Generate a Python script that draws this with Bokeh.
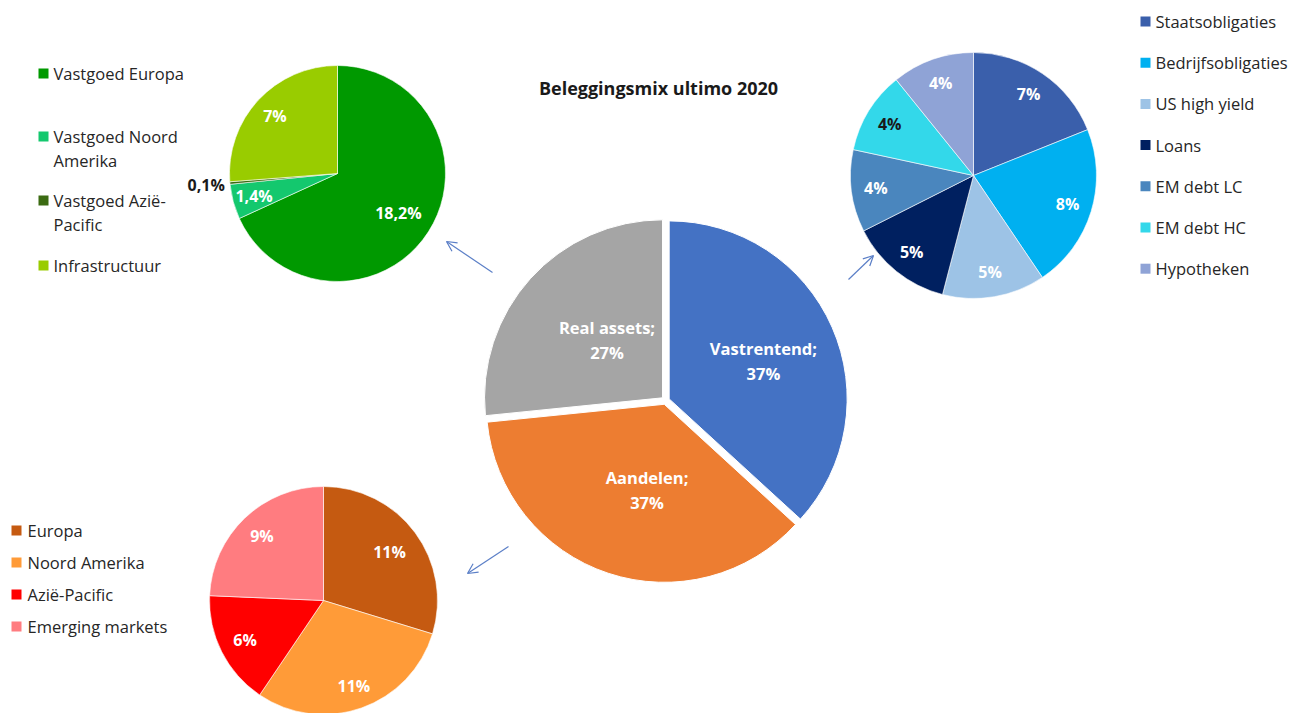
import math
from bokeh.plotting import figure
from bokeh.models import Range1d, ColumnDataSource, Arrow, OpenHead
from bokeh.core.properties import value
from bokeh.embed import file_html
from bokeh.resources import INLINE

# ---------------- data ----------------
title = "Beleggingsmix ultimo 2020"

main_cats = ["Vastrentend", "Aandelen", "Real assets"]
main_vals = [36.8, 36.6, 26.6]
main_colors = ["#4472C4", "#ED7D31", "#A5A5A5"]

re_cats = ["Vastgoed Europa", "Vastgoed Noord Amerika", "Vastgoed Azië-Pacific", "Infrastructuur"]
re_vals = [18.2, 1.4, 0.1, 7.0]
re_labels = ["18,2%", "1,4%", "0,1%", "7%"]
re_legend = [["Vastgoed Europa"], ["Vastgoed Noord", "Amerika"], ["Vastgoed Azië-", "Pacific"], ["Infrastructuur"]]
re_colors = ["#009900", "#14C86E", "#3B6B12", "#99CC00"]

fi_cats = ["Staatsobligaties", "Bedrijfsobligaties", "US high yield", "Loans", "EM debt LC", "EM debt HC", "Hypotheken"]
fi_vals = [7, 8, 5, 5, 4, 4, 4]
fi_colors = ["#3A5FAB", "#00B0F0", "#9DC3E6", "#002060", "#4A86BE", "#33D8EA", "#8FA3D6"]

eq_cats = ["Europa", "Noord Amerika", "Azië-Pacific", "Emerging markets"]
eq_vals = [11, 11, 6, 9]
eq_colors = ["#C55A11", "#FF9B38", "#FF0000", "#FF7C80"]

# ---------------- figure ----------------
W, H = 1304, 713


def Y(py):
    return H - py


p = figure(width=W, height=H, x_range=Range1d(0, W), y_range=Range1d(0, H),
           output_backend="svg", toolbar_location=None, min_border=0,
           x_axis_location=None, y_axis_location=None)
p.grid.visible = False
p.outline_line_color = None
p.background_fill_color = "white"

FONT = value("Open Sans")


def pie(cx, cy, r, vals, colors, explode=0.0, line_color="white", line_width=0.8):
    """cx, cy in pixel coords (cy = row). Clockwise from 12 o'clock."""
    total = float(sum(vals))
    cum = 0.0
    xs, ys, st, en, bis = [], [], [], [], []
    for v in vals:
        a0 = cum / total * 360.0
        a1 = (cum + v) / total * 360.0
        mid = math.radians((a0 + a1) / 2.0)
        xs.append(cx + explode * math.sin(mid))
        ys.append(Y(cy) + explode * math.cos(mid))
        st.append(math.radians(90.0 - a1))
        en.append(math.radians(90.0 - a0))
        bis.append(mid)
        cum += v
    src = ColumnDataSource(dict(x=xs, y=ys, start=st, end=en, color=colors))
    p.wedge(x="x", y="y", radius=r, start_angle="start", end_angle="end",
            fill_color="color", line_color=line_color, line_width=line_width, source=src)
    return xs, ys, bis


def labels(xs, ys, bis, r, fracs, texts, colors, size="16px", shifts=None):
    if shifts is None:
        shifts = [0.0] * len(xs)
    ang = [b + math.radians(s) for b, s in zip(bis, shifts)]
    lx = [x + f * r * math.sin(a) for x, a, f in zip(xs, ang, fracs)]
    ly = [y + f * r * math.cos(a) for y, a, f in zip(ys, ang, fracs)]
    p.text(x=lx, y=ly, text=texts, text_color=colors, text_font=FONT,
           text_font_style="bold", text_font_size=size, text_align="center",
           text_baseline="middle", text_line_height=1.1)


def legend(sq_x, txt_x, rows, colors, texts_lines, size="16.5px", line_gap=24):
    sx, sy = [], []
    tx, ty, tt = [], [], []
    for row, col, lines in zip(rows, colors, texts_lines):
        sx.append(sq_x)
        sy.append(Y(row))
        for i, t in enumerate(lines):
            tx.append(txt_x)
            ty.append(Y(row + i * line_gap))
            tt.append(t)
    p.rect(x=sx, y=sy, width=10, height=10, width_units="screen", height_units="screen",
           fill_color=colors, line_color=None)
    p.text(x=tx, y=ty, text=tt, text_color="#262626", text_font=FONT,
           text_font_size=size, text_align="left", text_baseline="middle")


# ---------------- main pie ----------------
R_MAIN = 178
mx, my, mb = pie(665, 400, R_MAIN, main_vals, main_colors, explode=4.0,
                 line_color="white", line_width=1)
main_texts = ["%s;\n%d%%" % (c, round(v)) for c, v in zip(main_cats, main_vals)]
labels(mx, my, mb, R_MAIN, [0.57, 0.49, 0.45], main_texts, ["white"] * 3,
       size="16.5px", shifts=[2, -7, 4])

# ---------------- real assets pie (top-left) ----------------
R_RE = 108
rx, ry, rb = pie(337, 173, R_RE, re_vals, re_colors, line_width=0.6)
labels(rx, ry, rb, R_RE, [0.67, 0.8, 1.22, 0.79], re_labels,
       ["white", "white", "#1a1a1a", "white"], size="16px")
legend(43, 53, [73, 136, 200, 265], re_colors, re_legend)

# ---------------- fixed income pie (top-right) ----------------
R_FI = 123
fx, fy, fb = pie(973, 175, R_FI, fi_vals, fi_colors, line_width=0.6)
fi_texts = ["%d%%" % v for v in fi_vals]
fi_tcol = ["white"] * 5 + ["#1a1a1a", "white"]
labels(fx, fy, fb, R_FI, [0.8] * 7, fi_texts, fi_tcol, size="16px")
legend(1145, 1155, [21 + 41.2 * i for i in range(7)], fi_colors, [[c] for c in fi_cats])

# ---------------- equities pie (bottom-left) ----------------
R_EQ = 114
ex, ey, eb = pie(323, 600, R_EQ, eq_vals, eq_colors, line_width=0.6)
eq_texts = ["%d%%" % v for v in eq_vals]
labels(ex, ey, eb, R_EQ, [0.72, 0.8, 0.77, 0.78], eq_texts, ["white"] * 4, size="16px")
legend(16, 27, [530 + 32 * i for i in range(4)], eq_colors, [[c] for c in eq_cats])

# ---------------- title ----------------
p.text(x=[658], y=[Y(87)], text=[title], text_font=FONT, text_font_style="bold",
       text_font_size="18px", text_color="#1a1a1a", text_align="center",
       text_baseline="middle")

# ---------------- arrows ----------------
ARROW_COL = "#5B7FC7"
for (x0, y0, x1, y1) in [(492, 272, 446, 241), (848, 279, 873, 255), (508, 546, 467, 573)]:
    p.add_layout(Arrow(end=OpenHead(size=10, line_color=ARROW_COL, line_width=1.2),
                       x_start=x0, y_start=Y(y0), x_end=x1, y_end=Y(y1),
                       line_color=ARROW_COL, line_width=1.2))

open("out.html", "w").write(file_html(p, INLINE))
